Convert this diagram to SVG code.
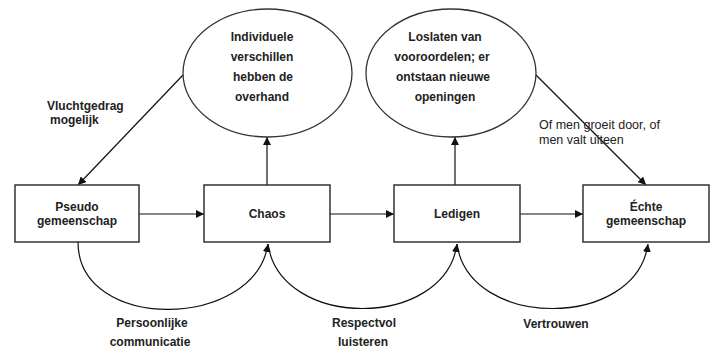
<svg xmlns="http://www.w3.org/2000/svg" width="717" height="351" viewBox="0 0 717 351">
<defs>
<marker id="ah" viewBox="0 0 10 10" refX="10" refY="5" markerWidth="8" markerHeight="8" markerUnits="userSpaceOnUse" orient="auto">
<path d="M0,0 L10,5 L0,10 Z" fill="#111"/>
</marker>
<style>
.box{fill:#fff;stroke:#333;stroke-width:1.5}
.ell{fill:#fff;stroke:#333;stroke-width:1.3}
.t{font-family:"Liberation Sans",Arial,sans-serif;font-size:12px;font-weight:bold;fill:#222;text-anchor:middle}
.tl{font-family:"Liberation Sans",Arial,sans-serif;font-size:12px;font-weight:bold;fill:#222}
.tn{font-family:"Liberation Sans",Arial,sans-serif;font-size:12.5px;fill:#222}
.c{fill:none;stroke:#111;stroke-width:1.2;marker-end:url(#ah)}
</style>
</defs>
<rect width="717" height="351" fill="#fff"/>
<g id="connectors">
<line class="c" x1="139" y1="214" x2="204" y2="214"/>
<line class="c" x1="330" y1="214" x2="394" y2="214"/>
<line class="c" x1="520" y1="214" x2="583" y2="214"/>
<line class="c" x1="267" y1="185" x2="267" y2="137"/>
<line class="c" x1="455" y1="185" x2="455" y2="137"/>
<line class="c" x1="183" y1="75" x2="78" y2="185"/>
<line class="c" x1="536" y1="75" x2="646" y2="185"/>
<path class="c" d="M78,242 C78,333 255,330 268,244"/>
<path class="c" d="M268,244 C280,330 445,330 457,244"/>
<path class="c" d="M457,244 C469,330 636,330 648,244"/>
</g>
<g id="pseudo">
<rect class="box" x="15" y="185" width="124" height="57"/>
<text class="t" x="77" y="211">Pseudo</text>
<text class="t" x="77" y="225">gemeenschap</text>
</g>
<g id="chaos">
<rect class="box" x="204" y="185" width="126" height="57"/>
<text class="t" x="267" y="218">Chaos</text>
</g>
<g id="ledigen">
<rect class="box" x="394" y="185" width="126" height="57"/>
<text class="t" x="457" y="218">Ledigen</text>
</g>
<g id="echte">
<rect class="box" x="583" y="185" width="126" height="57"/>
<text class="t" x="646" y="211">Échte</text>
<text class="t" x="646" y="225">gemeenschap</text>
</g>
<g id="individuele">
<ellipse class="ell" cx="267.5" cy="73" rx="84.5" ry="64"/>
<text class="t" x="262" y="41">Individuele</text>
<text class="t" x="262" y="61">verschillen</text>
<text class="t" x="263" y="81">hebben de</text>
<text class="t" x="262" y="101">overhand</text>
</g>
<g id="loslaten">
<ellipse class="ell" cx="451" cy="73" rx="85" ry="64"/>
<text class="t" x="445" y="41">Loslaten van</text>
<text class="t" x="442" y="61">vooroordelen; er</text>
<text class="t" x="443" y="81">ontstaan nieuwe</text>
<text class="t" x="445" y="101">openingen</text>
</g>
<g id="labels">
<text class="tl" x="47" y="110">Vluchtgedrag</text>
<text class="tl" x="50" y="124">mogelijk</text>
<text class="tn" x="539" y="129">Of men groeit door, of</text>
<text class="tn" x="539" y="144">men valt uiteen</text>
<text class="t" x="152" y="327">Persoonlijke</text>
<text class="t" x="150" y="346">communicatie</text>
<text class="t" x="364" y="327">Respectvol</text>
<text class="t" x="363" y="346">luisteren</text>
<text class="t" x="556" y="328">Vertrouwen</text>
</g>
</svg>
